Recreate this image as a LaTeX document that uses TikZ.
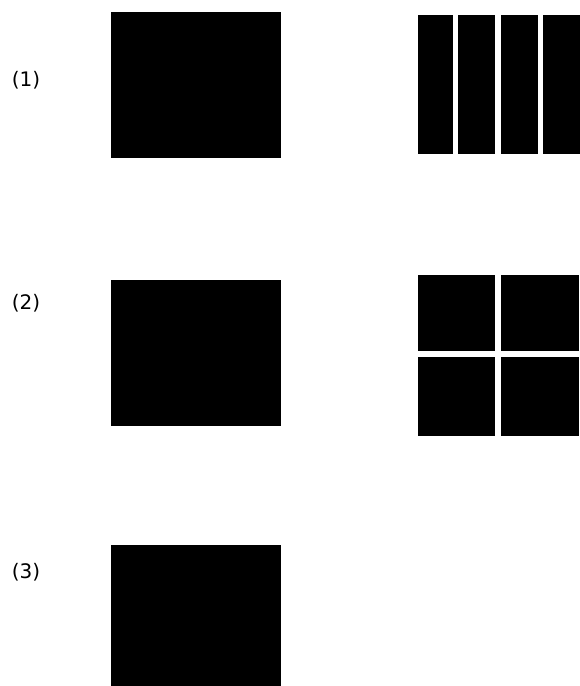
\documentclass[tikz,border=0pt]{standalone}
\usepackage{fontspec}
\setmainfont{DejaVu Sans}
\usetikzlibrary{positioning}
\begin{document}
\begin{tikzpicture}[x=1pt,y=-1pt]
    \tikzstyle{every node}=[rectangle,fill=black,inner sep=0pt,outer sep=0pt,anchor=north west]
    \tikzstyle{tag}=[fill=none,anchor=center,font=\fontsize{20}{24}\selectfont]
    \useasboundingbox (0,0) rectangle (579,686);
    % labels
    \node[tag] (t1) at (26,80) {(1)};
    \node[tag] (t2) at (26,303) {(2)};
    \node[tag] (t3) at (26,572) {(3)};
    % whole blocks
    \node[minimum width=170pt,minimum height=146pt] (b1) at (111,12) {};
    \node[minimum width=170pt,minimum height=146pt] (b2) at (111,280) {};
    \node[minimum width=170pt,minimum height=146pt] (b3) at (111,545) {};
    % cut into strips
    \foreach \x/\w [count=\i] in {418/35,458/37,501/37,543/38}
      \node[minimum width=\w pt,minimum height=139pt] (s\i) at (\x,15) {};
    % cut into quarters
    \node[minimum width=77pt,minimum height=76pt] (q1) at (418,275) {};
    \node[minimum width=78pt,minimum height=76pt] (q2) at (501,275) {};
    \node[minimum width=77pt,minimum height=79pt] (q3) at (418,357) {};
    \node[minimum width=78pt,minimum height=79pt] (q4) at (501,357) {};
\end{tikzpicture}
\end{document}
